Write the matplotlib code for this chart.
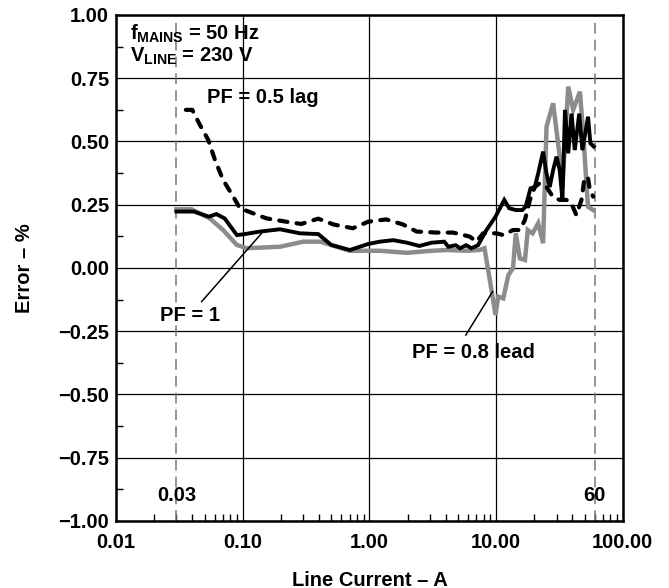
import numpy as np
import matplotlib
matplotlib.use("Agg")
import matplotlib.pyplot as plt
from matplotlib.ticker import FixedLocator, LogLocator, NullFormatter

plt.rcParams["font.family"] = ["Liberation Sans", "DejaVu Sans"]
plt.rcParams["font.weight"] = "bold"
plt.rcParams["mathtext.fontset"] = "custom"
plt.rcParams["mathtext.rm"] = "Liberation Sans:bold"
plt.rcParams["mathtext.bf"] = "Liberation Sans:bold"

# PF = 1 (black solid)
pf1_x = [0.030, 0.041, 0.054, 0.062, 0.072, 0.090, 0.101, 0.137, 0.197, 0.283,
         0.395, 0.50, 0.70, 0.98, 1.21, 1.54, 1.98, 2.48, 3.1, 3.9, 4.2, 4.8, 5.2,
         5.8, 6.4, 7.2, 8.4, 9.9, 11.6, 12.7, 14.3, 16.1, 17.1, 18.7, 20.2, 21.5,
         23.5, 25, 26.5, 28.2, 30, 31.8, 33.4, 35, 37.1, 39.4, 41.8, 45.3, 48,
         53.2, 55.5, 59]
pf1_y = [0.223, 0.223, 0.203, 0.213, 0.196, 0.130, 0.133, 0.144, 0.153, 0.137,
         0.134, 0.091, 0.071, 0.095, 0.104, 0.110, 0.100, 0.087, 0.100, 0.104,
         0.084, 0.090, 0.078, 0.090, 0.078, 0.090, 0.150, 0.203, 0.269, 0.236,
         0.229, 0.229, 0.242, 0.315, 0.320, 0.374, 0.460, 0.374, 0.320, 0.387,
         0.440, 0.387, 0.269, 0.625, 0.453, 0.610, 0.466, 0.610, 0.466, 0.598,
         0.493, 0.480]

# PF = 0.8 lead (grey solid)
pf08_x = [0.030, 0.0395, 0.055, 0.070, 0.090, 0.107, 0.197, 0.30, 0.41, 0.70,
          1.01, 1.21, 1.98, 3.1, 4.1, 5.8, 7.4, 8.1, 9.2, 9.9, 10.4, 11.4, 12.5,
          13.6, 14.3, 15.4, 16.9, 17.8, 19.4, 21.5, 23.5, 25, 28.2, 31.8, 33.4,
          37.1, 40.6, 45.9, 48.7, 51.9, 53.2, 58.4]
pf08_y = [0.232, 0.232, 0.196, 0.150, 0.091, 0.078, 0.084, 0.104, 0.104, 0.068,
          0.068, 0.068, 0.060, 0.068, 0.071, 0.068, 0.071, 0.078, -0.087, -0.186,
          -0.113, -0.120, -0.028, -0.001, 0.137, 0.038, 0.032, 0.150, 0.137,
          0.177, 0.098, 0.558, 0.651, 0.440, 0.320, 0.717, 0.625, 0.697, 0.532,
          0.320, 0.242, 0.229]

# PF = 0.5 lag (black dashed)
pf05_x = [0.0356, 0.040, 0.046, 0.0535, 0.0604, 0.070, 0.0842, 0.095, 0.114,
          0.154, 0.22, 0.29, 0.395, 0.52, 0.74, 0.98, 1.36, 1.84, 2.36, 3.39,
          4.58, 6.2, 7.0, 7.9, 10.1, 11.4, 13.6, 15.4, 16.9, 18.5, 20.2, 22.1,
          25, 28.2, 31.8, 35.9, 39.3, 43, 47.2, 50, 53.2, 55, 58.4]
pf05_y = [0.625, 0.625, 0.565, 0.506, 0.427, 0.348, 0.282, 0.236, 0.221, 0.196,
          0.183, 0.174, 0.195, 0.172, 0.157, 0.183, 0.192, 0.172, 0.144, 0.140,
          0.140, 0.124, 0.104, 0.137, 0.137, 0.130, 0.150, 0.150, 0.190, 0.269,
          0.320, 0.335, 0.320, 0.280, 0.269, 0.269, 0.256, 0.209, 0.269, 0.360,
          0.354, 0.308, 0.282]

x_ticks = [0.01, 0.1, 1, 10, 100]
x_labels = ["0.01", "0.10", "1.00", "10.00", "100.00"]
y_ticks = [-1.0, -0.75, -0.5, -0.25, 0.0, 0.25, 0.5, 0.75, 1.0]
y_labels = ["\u22121.00", "\u22120.75", "\u22120.50", "\u22120.25", "0.00",
            "0.25", "0.50", "0.75", "1.00"]
range_marks = [0.03, 60]
range_labels = ["0.03", "60"]

FS = 14.5

fig = plt.figure(figsize=(6.69, 5.88), dpi=100)
ax = fig.add_axes([0.1734, 0.114, 0.7575, 0.8605])

grey = "#8c8c8c"
ax.plot(pf08_x, pf08_y, color=grey, lw=3.2, zorder=3, solid_joinstyle="miter")
ax.plot(pf1_x, pf1_y, color="black", lw=2.8, zorder=4, solid_joinstyle="miter")
ax.plot(pf05_x, pf05_y, color="black", lw=3.0, ls=(0, (2.0, 2.2)), zorder=4,
        dash_capstyle="round")

for xm, lab in zip(range_marks, range_labels):
    ax.axvline(xm, color="#777777", lw=1.1, ls=(0, (7, 4)), zorder=2)
    ax.text(xm, -0.9, lab, ha="center", va="center", fontsize=FS,
            fontweight="bold")

ax.set_xscale("log")
ax.set_xlim(0.01, 100)
ax.set_ylim(-1.0, 1.0)

ax.xaxis.set_major_locator(FixedLocator(x_ticks))
ax.set_xticklabels(x_labels)
ax.xaxis.set_minor_locator(LogLocator(base=10, subs=np.arange(2, 10)))
ax.xaxis.set_minor_formatter(NullFormatter())
ax.yaxis.set_major_locator(FixedLocator(y_ticks))
ax.set_yticklabels(y_labels)
ax.yaxis.set_minor_locator(FixedLocator(np.arange(-0.875, 1.0, 0.25)))

ax.tick_params(which="major", length=0, pad=5, labelsize=FS)
ax.tick_params(axis="x", which="major", pad=9)
ax.tick_params(which="minor", direction="in", length=5, width=1,
               top=False, right=False)
ax.grid(True, which="major", color="black", lw=0.9)

for sp in ax.spines.values():
    sp.set_linewidth(1.8)

ax.set_xlabel("Line Current \u2013 A", fontsize=FS, fontweight="bold",
              labelpad=13)
ax.set_ylabel("Error \u2013 %", fontsize=FS, fontweight="bold", labelpad=17)

ax.text(0.027, 0.962, r"f$_{\mathbf{MAINS}}$ = 50 Hz", transform=ax.transAxes,
        fontsize=FS, fontweight="bold", va="center")
ax.text(0.027, 0.918, r"V$_{\mathbf{LINE}}$ = 230 V", transform=ax.transAxes,
        fontsize=FS, fontweight="bold", va="center")

ax.text(0.1445, 0.672, "PF = 0.5 lag", ha="center", va="center",
        fontsize=FS, fontweight="bold")
ax.text(0.0384, -0.186, "PF = 1", ha="center", va="center",
        fontsize=FS, fontweight="bold")
ax.text(6.67, -0.336, "PF = 0.8 lead", ha="center", va="center",
        fontsize=FS, fontweight="bold")

ax.plot([0.0474, 0.141], [-0.133, 0.137], color="black", lw=1.1, zorder=5)
ax.plot([5.77, 9.37], [-0.265, -0.094], color="black", lw=1.1, zorder=5)

fig.savefig("out.png", dpi=100)
